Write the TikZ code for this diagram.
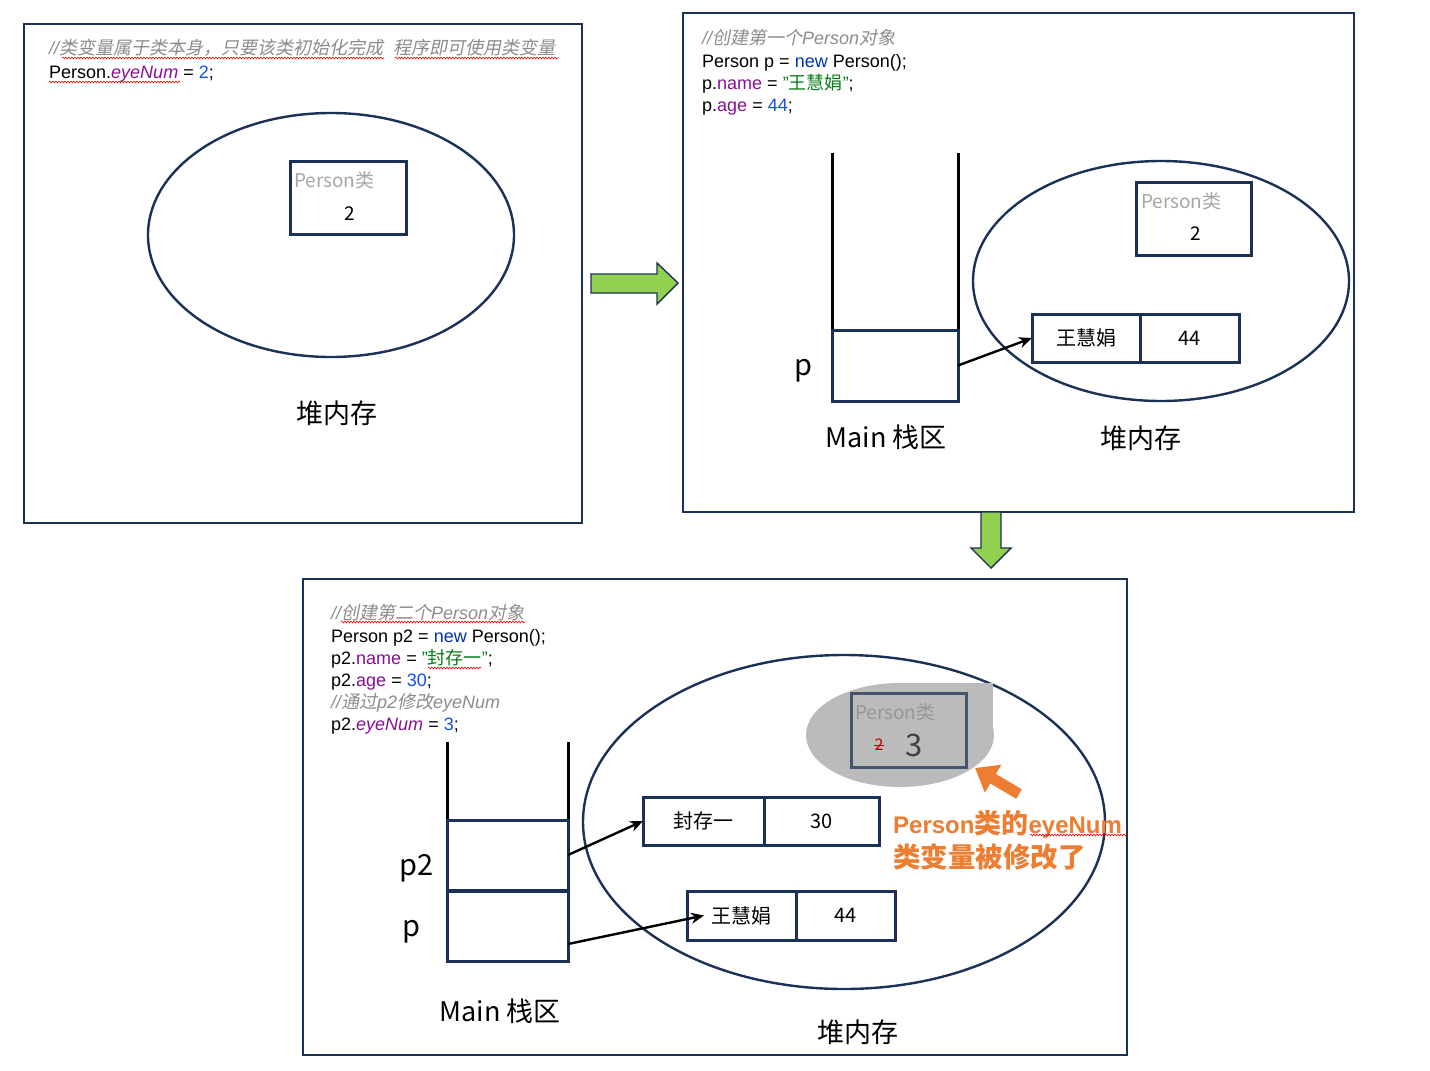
\documentclass[tikz,border=0pt]{standalone}
\usepackage{fontspec}
\setmainfont{Liberation Sans}
\newfontfamily\cjk{Noto Sans CJK SC}
\newfontfamily\cjkslant{Noto Sans CJK SC}[FakeSlant=0.2]
\usetikzlibrary{positioning,arrows.meta,decorations.pathmorphing}

\definecolor{navy}{HTML}{1C3158}
\definecolor{slate}{HTML}{44546A}
\definecolor{cmt}{HTML}{8C8C8C}
\definecolor{fld}{HTML}{871094}
\definecolor{kw}{HTML}{0033B3}
\definecolor{num}{HTML}{1750EB}
\definecolor{str}{HTML}{067D17}
\definecolor{arrowgreen}{HTML}{92D050}
\definecolor{note}{HTML}{ED7D31}
\definecolor{clsgray}{HTML}{A6A6A6}
\definecolor{blob}{HTML}{BBBBBB}

\newcommand\zh[1]{{\cjk #1}}
\newcommand\zhi[1]{{\cjkslant\upshape #1}}

\begin{document}
\begin{tikzpicture}[x=1pt,y=-1pt,
    panel/.style={draw=navy,line width=2.2pt},
    heap/.style={draw=navy,line width=2.4pt},
    cell/.style={draw=navy,line width=3pt,fill=white,inner sep=0pt,outer sep=0pt,
      minimum height=48,font=\cjk\fontsize{20}{20}\selectfont},
    codeline/.style={anchor=base west,inner sep=0pt,font=\fontsize{18}{22}\selectfont},
    areatext/.style={inner sep=0pt,font=\cjk\fontsize{27}{27}\selectfont},
    clsname/.style={anchor=west,inner sep=0pt,text=clsgray,font=\cjk\fontsize{19}{19}\selectfont},
    clsval/.style={inner sep=0pt,font=\cjk\fontsize{19}{19}\selectfont},
    ref/.style={-{Stealth[length=13pt,width=11pt]},line width=2.4pt},
    wall/.style={line width=3pt},
    bigarrow/.style={fill=arrowgreen,draw=navy,line width=1.4pt,line join=miter},
    spell/.style={draw=red,line width=0.6pt,decorate,decoration={snake,amplitude=0.9pt,segment length=3pt}},
  ]
  \fill[white] (0,0) rectangle (1430,1071);
  \useasboundingbox (0,0) rectangle (1430,1071);

  % class variable only
  \draw[panel] (24,24) rectangle (582,523);
  \node[codeline] (c11) at (49,54.5) {\itshape\color{cmt}//\zhi{类变量属于类本身，只要该类初始化完成}\hspace{10pt}\zhi{程序即可使用类变量}};
  \node[codeline] (c12) at (49,78.5) {Person.{\color{fld}\itshape eyeNum} = {\color{num}2};};
  \draw[spell] (62,58) -- (384,58);
  \draw[spell] (395,58) -- (558,58);
  \draw[spell] (49,82) -- (180,82);
  \draw[heap] (331,235) ellipse [x radius=183,y radius=122];
  \node[cell,fill=none,minimum width=116,minimum height=73] (cls1) at (348,197.5) {};
  \node[clsname] (cn1) at (294,180) {Person类};
  \node[clsval] (cv1) at (350,214) {2};
  \node[areatext] (heap1) at (337,413) {堆内存};

  \draw[bigarrow] (591,274) -- (657,274) -- (657,263) -- (678,283) -- (657,304) -- (657,293) -- (591,293) -- cycle;

  % first object
  \draw[panel] (683,13) rectangle (1354,512);
  \node[codeline] (c21) at (702,44.5) {\itshape\color{cmt}//\zhi{创建第一个}Person\zhi{对象}};
  \node[codeline] (c22) at (702,67.5) {Person p = {\color{kw}new} Person();};
  \node[codeline] (c23) at (702,89.5) {p.{\color{fld}name} = {\color{str}"\zh{王慧娟}"};};
  \node[codeline] (c24) at (702,111.5) {p.{\color{fld}age} = {\color{num}44};};
  \draw[wall] (832,153) -- (832,330);
  \draw[wall] (958,153) -- (958,330);
  \node[cell,minimum width=126,minimum height=71] (p1) at (895,365.5) {};
  \node[areatext,font=\cjk\fontsize{29}{29}\selectfont] (pl1) at (803,371) {p};
  \node[areatext] (stack1) at (886,437) {Main 栈区};
  \draw[heap] (1161,281) ellipse [x radius=188,y radius=120];
  \node[cell,fill=none,minimum width=115,minimum height=73] (cls2) at (1193.5,218.5) {};
  \node[clsname] (cn2) at (1141,201) {Person类};
  \node[clsval] (cv2) at (1196,234) {2};
  \node[cell,minimum width=108] (w1) at (1086,338) {王慧娟};
  \node[cell,minimum width=99,right=0pt of w1] (a1) {44};
  \draw[ref] (p1.east) -- (w1.west);
  \node[areatext] (heap2) at (1141,438) {堆内存};

  \draw[bigarrow] (981,512) -- (1001,512) -- (1001,548) -- (1011,548) -- (991,568) -- (971,548) -- (981,548) -- cycle;

  % second object
  \draw[panel] (303,579) rectangle (1127,1055);
  \node[codeline] (c31) at (331,619.5) {\itshape\color{cmt}//\zhi{创建第二个}Person\zhi{对象}};
  \node[codeline] (c32) at (331,642.5) {Person p2 = {\color{kw}new} Person();};
  \node[codeline] (c33) at (331,664.5) {p2.{\color{fld}name} = {\color{str}"\zh{封存一}"};};
  \node[codeline] (c34) at (331,686.5) {p2.{\color{fld}age} = {\color{num}30};};
  \node[codeline] (c35) at (331,708.5) {\itshape\color{cmt}//\zhi{通过}p2\zhi{修改}eyeNum};
  \node[codeline] (c36) at (331,730.5) {p2.{\color{fld}\itshape eyeNum} = {\color{num}3};};
  \draw[spell] (341,622) -- (525,622);
  \draw[spell] (428,668) -- (481,668);
  \draw[wall] (447,742) -- (447,820);
  \draw[wall] (568,742) -- (568,820);
  \node[cell,minimum width=121,minimum height=70] (p2c) at (507.5,855) {};
  \node[cell,minimum width=121,minimum height=70] (pc) at (507.5,926) {};
  \node[areatext,font=\cjk\fontsize{29}{29}\selectfont] (pl2) at (417,868) {p2};
  \node[areatext,font=\cjk\fontsize{29}{29}\selectfont] (pl3) at (411,932) {p};
  \node[areatext] (stack2) at (500,1011) {Main 栈区};
  \draw[heap] (844,822) ellipse [x radius=261,y radius=167];
  \fill[blob] (900,735) ellipse [x radius=94,y radius=52];
  \fill[blob] (900,683) rectangle (993,735);
  \node[cell,fill=none,draw=slate,minimum width=115,minimum height=74] (cls3) at (908.5,730) {};
  \node[clsname,text=cmt!90] (cn3) at (855,712) {Person类};
  \node[inner sep=0pt,text=red!75!black,font=\cjk\fontsize{16}{16}\selectfont] (old) at (879,745) {2};
  \draw[red!75!black,line width=0.8pt] (old.west) -- (old.east);
  \node[inner sep=0pt,text=black!75,font=\cjk\fontsize{31}{31}\selectfont] (new) at (914,745) {3};
  \node[cell,minimum width=121] (f3) at (703.5,821) {封存一};
  \node[cell,minimum width=115,right=0pt of f3] (a3) {30};
  \node[cell,minimum width=109,minimum height=49] (w2) at (741.5,915.5) {王慧娟};
  \node[cell,minimum width=99,minimum height=49,right=0pt of w2] (a2) {44};
  \coordinate (pout) at ([yshift=-18pt]pc.east);
  \coordinate (win) at ([xshift=17pt]w2.west);
  \draw[ref] (p2c.east) -- (f3.west);
  \draw[ref] (pout) -- (win);
  \coordinate (nstart) at (1019,794);
  \coordinate (nend) at (975,768);
  \draw[draw=note,line width=11pt,-{Triangle[width=31pt,length=21pt]}] (nstart) -- (nend);
  \node[anchor=west,inner sep=0pt,align=left,text=note,font=\bfseries\fontsize{24}{34}\selectfont] (remark) at (893,840)
    {Person{\cjk\fontsize{27}{34}\selectfont 类的}eyeNum\\{\cjk\fontsize{27.5}{34}\selectfont 类变量被修改了}};
  \draw[spell] (1030,835) -- (1127,835);
  \node[areatext] (heap3) at (858,1032) {堆内存};
\end{tikzpicture}
\end{document}
